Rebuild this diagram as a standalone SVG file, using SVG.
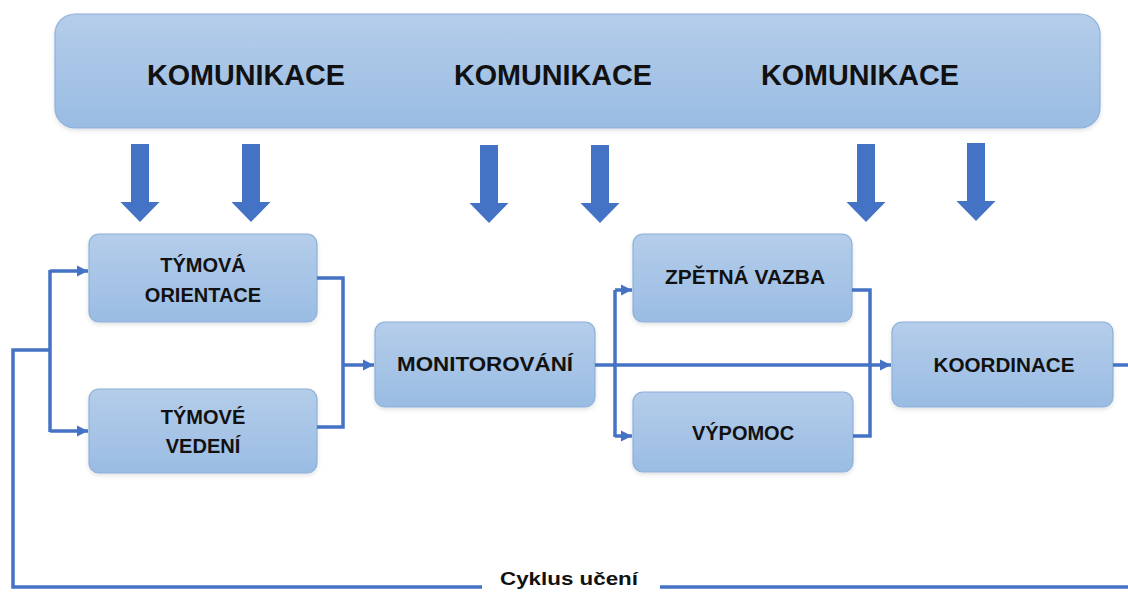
<svg xmlns="http://www.w3.org/2000/svg" width="1128" height="592" viewBox="0 0 1128 592">
<defs>
<linearGradient id="g" x1="0" y1="0" x2="0" y2="1">
<stop offset="0" stop-color="#b4cdea"/>
<stop offset="1" stop-color="#9abce3"/>
</linearGradient>
<filter id="sh" x="-10%" y="-10%" width="120%" height="130%">
<feDropShadow dx="0" dy="2" stdDeviation="2" flood-color="#000" flood-opacity="0.12"/>
</filter>
<marker id="ah" viewBox="0 0 10 10" refX="10" refY="5" markerWidth="3.2" markerHeight="3.2" orient="auto" markerUnits="strokeWidth">
<path d="M0,0 L10,5 L0,10 z" fill="#4472c4"/>
</marker>
<path id="barrow" d="M-9,0 H9 V58 H19.5 L0,78 L-19.5,58 H-9 Z"/>
</defs>
<style>
.box{fill:url(#g);stroke:#8eb0d9;stroke-width:1.2;filter:url(#sh)}
.t{font-family:"Liberation Sans",Arial,sans-serif;font-weight:bold;fill:#111;text-anchor:middle}
.big{font-size:29px}
.nt{font-size:20px}
.c{fill:none;stroke:#4472c4;stroke-width:3.5}
.ba{fill:#4472c4}
</style>
<rect width="1128" height="592" fill="#fff"/>
<g id="komunikace">
<rect class="box" x="55" y="14" width="1045" height="114" rx="20"/>
<text class="t big" x="246" y="85" textLength="198" lengthAdjust="spacingAndGlyphs">KOMUNIKACE</text>
<text class="t big" x="553" y="85" textLength="198" lengthAdjust="spacingAndGlyphs">KOMUNIKACE</text>
<text class="t big" x="860" y="85" textLength="198" lengthAdjust="spacingAndGlyphs">KOMUNIKACE</text>
</g>
<g id="block-arrows" class="ba">
<use href="#barrow" x="140" y="144"/>
<use href="#barrow" x="251" y="144"/>
<use href="#barrow" x="489" y="145"/>
<use href="#barrow" x="600" y="145"/>
<use href="#barrow" x="866" y="144"/>
<use href="#barrow" x="976" y="143"/>
</g>
<g id="tymova-orientace">
<rect class="box" x="89" y="234" width="228" height="88" rx="10"/>
<text class="t nt" x="203" y="272">TÝMOVÁ</text>
<text class="t nt" x="203" y="302">ORIENTACE</text>
</g>
<g id="tymove-vedeni">
<rect class="box" x="89" y="389" width="228" height="84" rx="10"/>
<text class="t nt" x="203" y="424">TÝMOVÉ</text>
<text class="t nt" x="203" y="453">VEDENÍ</text>
</g>
<g id="monitorovani">
<rect class="box" x="375" y="322" width="220" height="85" rx="10"/>
<text class="t nt" x="485" y="371" textLength="176" lengthAdjust="spacingAndGlyphs">MONITOROVÁNÍ</text>
</g>
<g id="zpetna-vazba">
<rect class="box" x="633" y="234" width="219" height="88" rx="10"/>
<text class="t nt" x="745" y="284" textLength="160" lengthAdjust="spacingAndGlyphs">ZPĚTNÁ VAZBA</text>
</g>
<g id="vypomoc">
<rect class="box" x="633" y="392" width="220" height="80" rx="10"/>
<text class="t nt" x="743" y="440">VÝPOMOC</text>
</g>
<g id="koordinace">
<rect class="box" x="892" y="322" width="221" height="85" rx="10"/>
<text class="t nt" x="1004" y="372" textLength="141" lengthAdjust="spacingAndGlyphs">KOORDINACE</text>
</g>
<g id="connectors">
<path class="c" d="M1128,587 H660"/>
<path class="c" d="M482,587 H13 V350 H50"/>
<path class="c" d="M50,270 V432"/>
<path class="c" d="M50,271 H88" marker-end="url(#ah)"/>
<path class="c" d="M50,431 H88" marker-end="url(#ah)"/>
<path class="c" d="M317,278 H343 V427 H317"/>
<path class="c" d="M343,365 H374" marker-end="url(#ah)"/>
<path class="c" d="M595,365 H891" marker-end="url(#ah)"/>
<path class="c" d="M615,290 V437"/>
<path class="c" d="M615,290 H632" marker-end="url(#ah)"/>
<path class="c" d="M615,436 H632" marker-end="url(#ah)"/>
<path class="c" d="M852,290 H870 V436 H853"/>
<path class="c" d="M1113,365 H1128"/>
</g>
<text class="t" x="569" y="585" font-size="18" textLength="138" lengthAdjust="spacingAndGlyphs">Cyklus učení</text>
</svg>
